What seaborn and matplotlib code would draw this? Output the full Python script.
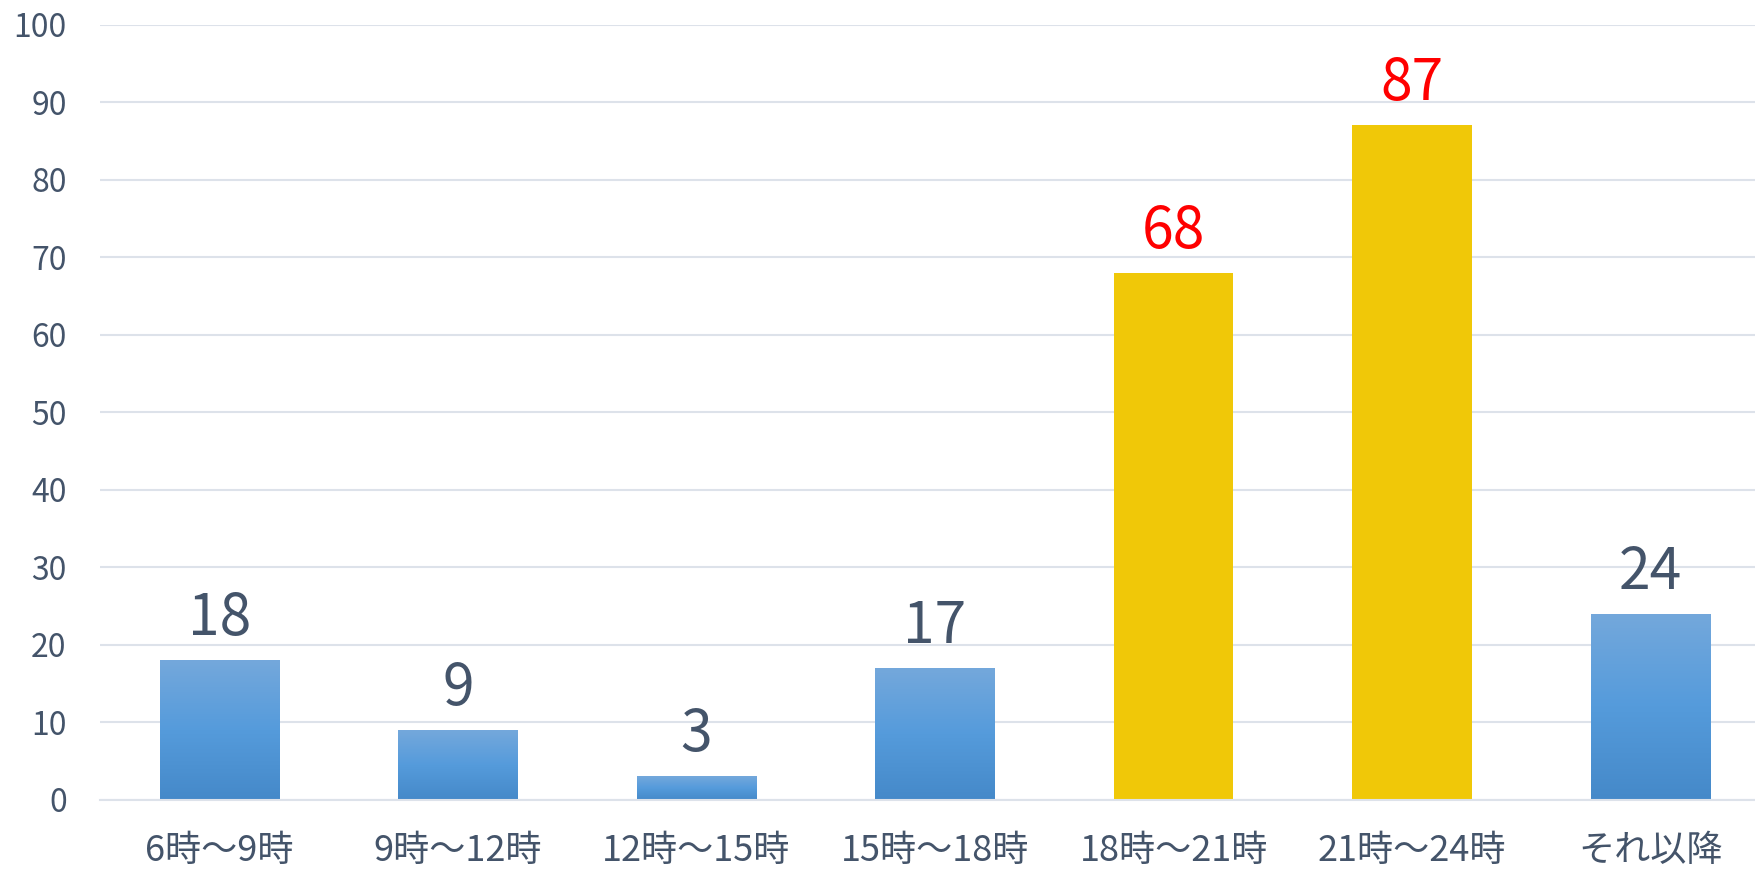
import numpy as np
import matplotlib
matplotlib.use("Agg")
import matplotlib.pyplot as plt
import seaborn as sns
from matplotlib.colors import LinearSegmentedColormap

# data
categories = ['6時〜9時', '9時〜12時', '12時〜15時', '15時〜18時', '18時〜21時', '21時〜24時', 'それ以降']
values = [18, 9, 3, 17, 68, 87, 24]
groups = ['normal', 'normal', 'normal', 'normal', 'peak', 'peak', 'normal']

text_color = '#44546A'
grid_color = '#DDE2EA'
yellow = '#F0C808'
blue_grad = LinearSegmentedColormap.from_list('bluegrad', ['#4589C9', '#559BDB', '#74A8DC'])

sns.set_theme(style='white')
plt.rcParams['font.family'] = ['Noto Sans CJK JP', 'DejaVu Sans']

fig = plt.figure(figsize=(17.56, 8.71), dpi=100)
ax = fig.add_axes([100 / 1756, 0.0819, 1670 / 1756, 0.9718 - 0.0819])

sns.barplot(x=categories, y=values, hue=groups, dodge=False, width=0.5,
            palette={'normal': '#559BDB', 'peak': yellow}, legend=False,
            saturation=1, ax=ax)

# gradient fill for the blue bars
grad = np.linspace(0, 1, 256).reshape(-1, 1)
for bar in ax.patches:
    if bar.get_height() <= 0:
        continue
    x0, y0 = bar.get_x(), bar.get_y()
    w, h = bar.get_width(), bar.get_height()
    cx = x0 + w / 2
    idx = int(round(cx))
    if groups[idx] == 'normal':
        bar.set_facecolor('none')
        im = ax.imshow(grad, cmap=blue_grad, origin='lower', aspect='auto',
                       extent=[x0, x0 + w, y0, y0 + h], zorder=bar.get_zorder())
        im.set_clip_path(bar)
    bar.set_edgecolor('none')
    col = 'red' if groups[idx] == 'peak' else text_color
    ax.annotate(str(values[idx]), (cx, y0 + h), xytext=(0, 18), textcoords='offset points',
                ha='center', va='baseline', fontsize=41, color=col)

ax.set_xlim(-0.5, 6.5)
ax.set_ylim(0, 100)
ax.set_yticks(range(0, 101, 10))
ax.yaxis.grid(True, color=grid_color, linewidth=1.5)
ax.set_axisbelow(True)
for s in ['top', 'right', 'left']:
    ax.spines[s].set_visible(False)
ax.spines['bottom'].set_color(grid_color)
ax.spines['bottom'].set_linewidth(1.5)
ax.tick_params(axis='x', length=0, pad=24, labelsize=26, labelcolor=text_color)
ax.tick_params(axis='y', length=0, pad=24, labelsize=23, labelcolor=text_color)
ax.set_xlabel('')
ax.set_ylabel('')

fig.savefig('out.png', dpi=100)
